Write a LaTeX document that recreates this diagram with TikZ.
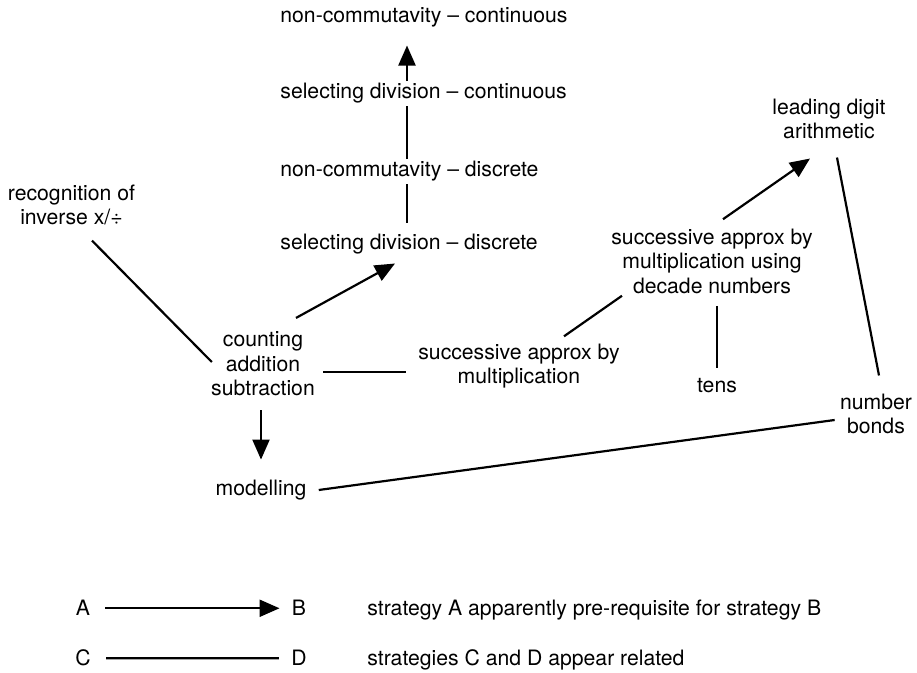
\documentclass[tikz,border=0pt]{standalone}
\usepackage{fontspec}
\setmainfont{TeX Gyre Heros}
\usepackage{tikz}
\usetikzlibrary{arrows.meta,calc}
\tikzset{
  strat/.style ={align=center,inner sep=1pt,font=\fontsize{10.6}{12.25}\selectfont},
  flow/.style  ={-{Triangle[length=10pt,width=8.5pt]},line width=1.1pt,draw=black},
  link/.style  ={line width=1.1pt,draw=black},
}

\begin{document}
\begin{tikzpicture}[x=0.5pt,y=-0.5pt]
  \useasboundingbox (0,0) rectangle (917,673);
  \coordinate (spine) at (407,0);
  \node[strat,anchor=base west] (ncc) at (278,22.5) {non-commutavity – continuous};
  \node[strat,anchor=base west] (sdc) at (278,99) {selecting division – continuous};
  \node[strat,anchor=base west] (ndd) at (278,177) {non-commutavity – discrete};
  \node[strat,anchor=base west] (sdd) at (278,249.5) {selecting division – discrete};
  \node[strat] (ria) at (71.5,205) {recognition of\\inverse x/÷};
  \node[strat] (cas) at (263,364) {counting\\addition\\subtraction};
  \node[strat] (mod) at (261,490) {modelling};
  \node[strat] (sam) at (519,366) {successive approx by\\multiplication};
  \node[strat] (sad) at (712,261) {successive approx by\\multiplication using\\decade numbers};
  \node[strat] (ldg) at (829,119) {leading digit\\arithmetic};
  \node[strat,anchor=base] (tens) at (717,393) {tens};
  \node[strat] (nb) at (876,414) {number\\bonds};

  \draw[link] ($(sdd.north -| spine)+(0,-9)$) -- (ndd.south -| spine);
  \draw[link] (ndd.north -| spine) -- (sdc.south -| spine);
  \draw[flow] (sdc.north -| spine) -- ($(ncc.south -| spine)+(0,16)$);
  \draw[flow] ($(cas.north)+(33,-11.5)$) -- ($(sdd.south west)+(117,7)$);
  \draw[link] ($(ria.south)+(20.5,13)$) -- ($(cas.west)+(3,-2)$);
  \draw[link] ($(cas.east)+(6,8)$) -- ($(sam.west)+(-10,6)$);
  \draw[flow] ($(cas.south)+(-2,11.5)$) -- ($(mod.north)+(0,-18)$);
  \draw[link] ($(sam.north)+(45,-5)$) -- ($(sad.south west)+(13,0)$);
  \draw[flow] ($(sad.north)+(11,-7)$) -- ($(ldg.south)+(-19,17)$);
  \draw[link] ($(sad.south)+(5,10)$) -- ($(tens.north)+(0,-8)$);
  \draw[link] ($(ldg.south)+(8,16)$) -- ($(nb.north)+(3,-16)$);
  \draw[link] ($(nb.west)+(-3,6)$) -- ($(mod.east)+(10,0)$);

  % key
  \node[strat,anchor=base] (ka) at (83,616) {A};
  \node[strat,anchor=base] (kb) at (299,616) {B};
  \node[strat,anchor=base] (kc) at (83,666) {C};
  \node[strat,anchor=base] (kd) at (299,666) {D};
  \node[strat,anchor=base west] (kab) at (365,616) {strategy A apparently pre-requisite for strategy B};
  \node[strat,anchor=base west] (kcd) at (365,666) {strategies C and D appear related};
  \draw[flow] ($(ka.east)+(13,0)$) -- ($(kb.west)+(-10,0)$);
  \draw[link] ($(kc.east)+(13,0)$) -- ($(kd.west)+(-10,0)$);
\end{tikzpicture}
\end{document}
